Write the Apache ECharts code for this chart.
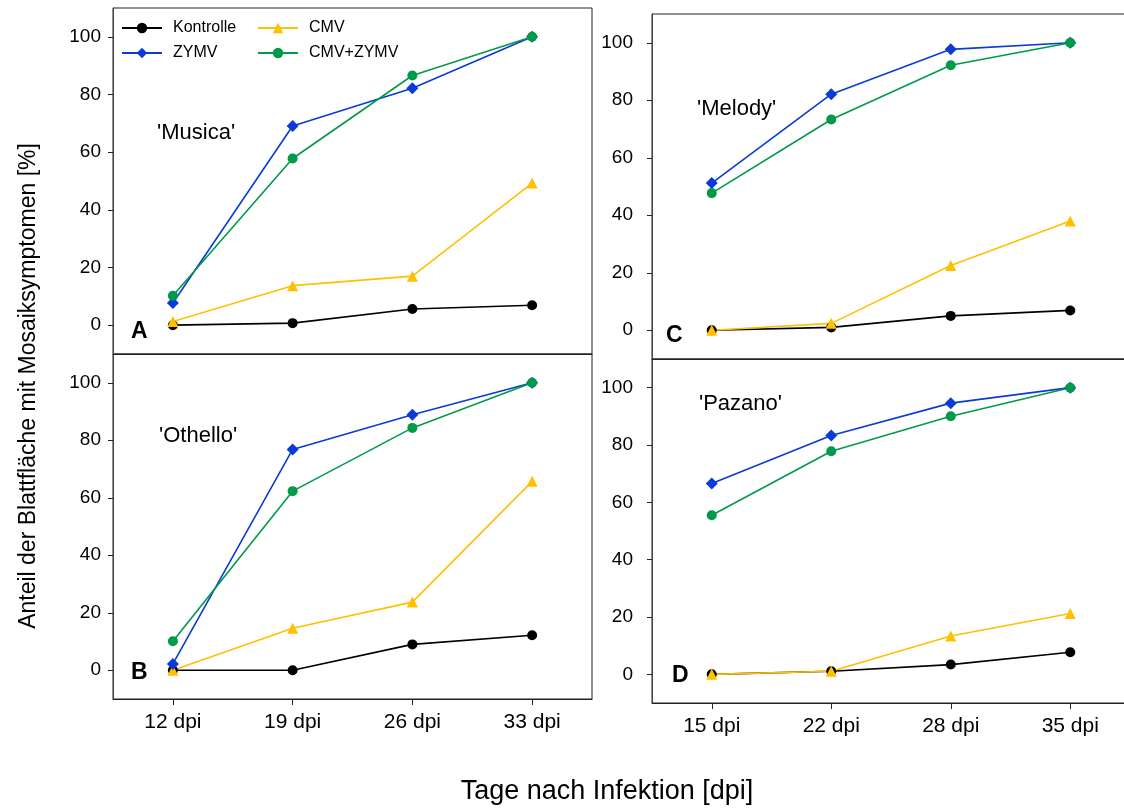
<!DOCTYPE html>
<html>
<head>
<meta charset="utf-8">
<script src="https://cdn.jsdelivr.net/npm/echarts@6/dist/echarts.min.js"></script>
<style>html,body{margin:0;padding:0;background:#fff;}#c{width:1124px;height:810px;}</style>
</head>
<body>
<div id="c"></div>
<script>
const catsLeft = ['12 dpi', '19 dpi', '26 dpi', '33 dpi'];
const catsRight = ['15 dpi', '22 dpi', '28 dpi', '35 dpi'];
const yTicks = [0, 20, 40, 60, 80, 100];
const seriesNames = ['Kontrolle', 'CMV', 'ZYMV', 'CMV+ZYMV'];

const musicaKontrolle = [0, 0.7, 5.6, 6.9];
const musicaCMV = [1.3, 13.7, 17.0, 49.3];
const musicaZYMV = [7.7, 69.1, 82.2, 100];
const musicaCMVZYMV = [10.2, 57.8, 86.6, 100];

const othelloKontrolle = [0, 0, 9.0, 12.2];
const othelloCMV = [0, 14.6, 23.7, 65.7];
const othelloZYMV = [2.2, 76.8, 88.9, 100];
const othelloCMVZYMV = [10.1, 62.3, 84.3, 100];

const melodyKontrolle = [0, 1.0, 5.0, 6.9];
const melodyCMV = [0, 2.4, 22.5, 38.0];
const melodyZYMV = [51.2, 82.1, 97.7, 100];
const melodyCMVZYMV = [47.7, 73.3, 92.2, 100];

const pazanoKontrolle = [0, 1.1, 3.4, 7.7];
const pazanoCMV = [0, 1.1, 13.4, 21.2];
const pazanoZYMV = [66.6, 83.3, 94.6, 100];
const pazanoCMVZYMV = [55.5, 77.8, 90.0, 100];

const panels = [
  { cats: catsLeft, data: [musicaKontrolle, musicaCMV, musicaZYMV, musicaCMVZYMV] },
  { cats: catsLeft, data: [othelloKontrolle, othelloCMV, othelloZYMV, othelloCMVZYMV] },
  { cats: catsRight, data: [melodyKontrolle, melodyCMV, melodyZYMV, melodyCMVZYMV] },
  { cats: catsRight, data: [pazanoKontrolle, pazanoCMV, pazanoZYMV, pazanoCMVZYMV] }
];

const FONT = 'Liberation Sans, Arial, sans-serif';
const styles = {
  'Kontrolle': { color: '#000000', symbol: 'circle', size: 10 },
  'CMV': { color: '#ffc000', symbol: 'triangle', size: 11 },
  'ZYMV': { color: '#0a3bd6', symbol: 'diamond', size: 12 },
  'CMV+ZYMV': { color: '#009a4a', symbol: 'circle', size: 10 }
};

const grids = [
  { left: 113, top: 8, width: 479, height: 346 },
  { left: 113, top: 354, width: 479, height: 345 },
  { left: 652, top: 14, width: 478, height: 345 },
  { left: 652, top: 359, width: 478, height: 344 }
].map(g => Object.assign(g, { show: true, borderColor: '#222', borderWidth: 1, containLabel: false, outerBoundsMode: 'none' }));

const xAxes = panels.map((p, i) => ({
  type: 'category', gridIndex: i, data: p.cats, boundaryGap: true,
  axisLine: { show: true, onZero: false, lineStyle: { color: '#222', width: 1 } },
  axisTick: { show: i === 1 || i === 3, alignWithLabel: true, length: 6, lineStyle: { color: '#222' } },
  axisLabel: { show: i === 1 || i === 3, fontSize: 21, color: '#000', fontFamily: FONT, margin: 13 },
  splitLine: { show: false }
}));

const yAxes = panels.map((p, i) => ({
  type: 'value', gridIndex: i, min: -10, max: 110,
  axisLine: { show: true, lineStyle: { color: '#444', width: 1 } },
  axisTick: { show: true, length: 5, customValues: yTicks, lineStyle: { color: '#222' } },
  axisLabel: { show: true, customValues: yTicks, fontSize: 19, color: '#000', fontFamily: FONT, margin: i < 2 ? 12 : 19 },
  splitLine: { show: false }
}));

const series = [];
panels.forEach((p, i) => {
  seriesNames.forEach((name, k) => {
    const s = styles[name];
    series.push({
      name: name, type: 'line', xAxisIndex: i, yAxisIndex: i,
      data: p.data[k], symbol: s.symbol, symbolSize: s.size,
      itemStyle: { color: s.color },
      lineStyle: { color: s.color, width: 1.6 },
      emphasis: { disabled: true }, animation: false
    });
  });
});

const txt = (text, x, y, size, weight) => ({
  type: 'text', left: x, top: y,
  style: { text: text, fontSize: size, fontWeight: weight || 'normal', fontFamily: FONT, fill: '#000' }
});

const legendText = { fontSize: 16, fontFamily: FONT, color: '#000', lineHeight: 16, padding: [0, 0, 0, 6] };
const option = {
  animation: false,
  grid: grids, xAxis: xAxes, yAxis: yAxes, series: series,
  legend: [
    { data: ['Kontrolle', 'ZYMV'], orient: 'vertical', left: 121, top: 20, padding: 0, itemWidth: 40, itemHeight: 13, itemGap: 9,
      textStyle: legendText, selectedMode: false },
    { data: ['CMV', 'CMV+ZYMV'], orient: 'vertical', left: 257, top: 20, padding: 0, itemWidth: 40, itemHeight: 13, itemGap: 9,
      textStyle: legendText, selectedMode: false }
  ],
  graphic: [
    txt("'Musica'", 157, 122, 22),
    txt("'Othello'", 159, 425, 22),
    txt("'Melody'", 697, 98, 22),
    txt("'Pazano'", 699, 393, 22),
    txt('A', 131, 320, 23, 'bold'),
    txt('B', 131, 661, 23, 'bold'),
    txt('C', 666, 324, 23, 'bold'),
    txt('D', 672, 664, 23, 'bold'),
    { type: 'text', x: 29, y: 386, rotation: Math.PI / 2,
      style: { text: 'Anteil der Blattfläche mit Mosaiksymptomen [%]', fontSize: 23, fontFamily: FONT, fill: '#000', align: 'center', verticalAlign: 'middle' } },
    { type: 'text', x: 607, y: 792,
      style: { text: 'Tage nach Infektion [dpi]', fontSize: 27, fontFamily: FONT, fill: '#000', align: 'center', verticalAlign: 'middle' } }
  ]
};

const chart = echarts.init(document.getElementById('c'), null, { renderer: 'canvas' });
chart.setOption(option);
</script>
</body>
</html>
